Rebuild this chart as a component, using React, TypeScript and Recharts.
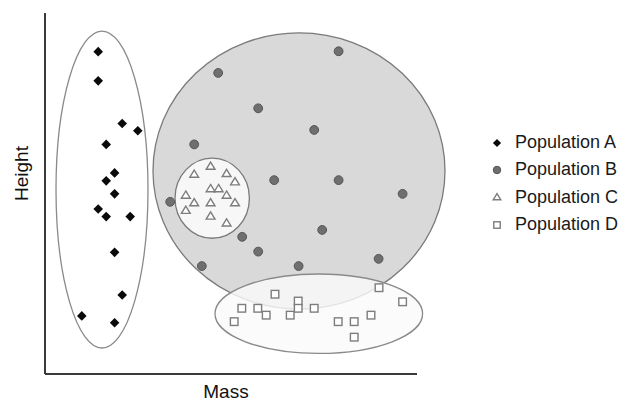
import React from 'react';
import { ScatterChart, Scatter, XAxis, YAxis, ReferenceArea, Legend } from 'recharts';

// Data values (Mass, Height), in arbitrary units
const popA = [
  { mass: 13.3, height: 89.3 }, { mass: 13.3, height: 81.2 }, { mass: 19.3, height: 69.4 },
  { mass: 23.2, height: 67.4 }, { mass: 15.3, height: 63.6 }, { mass: 17.4, height: 55.7 },
  { mass: 15.3, height: 53.5 }, { mass: 17.4, height: 49.9 }, { mass: 13.3, height: 45.7 },
  { mass: 15.3, height: 43.6 }, { mass: 21.3, height: 43.6 }, { mass: 17.4, height: 33.7 },
  { mass: 19.3, height: 21.9 }, { mass: 9.2, height: 16.1 }, { mass: 17.4, height: 14.2 },
];
const popB = [
  { mass: 73.4, height: 89.4 }, { mass: 43.3, height: 83.4 }, { mass: 53.3, height: 73.6 },
  { mass: 67.3, height: 67.6 }, { mass: 37.3, height: 63.6 }, { mass: 57.3, height: 53.7 },
  { mass: 73.4, height: 53.7 }, { mass: 89.4, height: 49.9 }, { mass: 31.3, height: 47.7 },
  { mass: 69.3, height: 39.9 }, { mass: 49.3, height: 38.0 }, { mass: 53.3, height: 33.9 },
  { mass: 83.4, height: 31.9 }, { mass: 39.2, height: 29.9 }, { mass: 63.4, height: 29.9 },
];
const popC = [
  { mass: 41.4, height: 57.6 }, { mass: 37.3, height: 55.4 }, { mass: 45.4, height: 55.6 },
  { mass: 47.5, height: 53.3 }, { mass: 41.4, height: 51.4 }, { mass: 43.4, height: 51.4 },
  { mass: 45.4, height: 49.6 }, { mass: 35.2, height: 49.6 }, { mass: 37.3, height: 47.5 },
  { mass: 41.4, height: 47.5 }, { mass: 47.5, height: 47.5 }, { mass: 35.2, height: 45.4 },
  { mass: 41.4, height: 43.8 }, { mass: 45.4, height: 41.9 },
];
const popD = [
  { mass: 57.5, height: 22.1 }, { mass: 83.5, height: 23.9 }, { mass: 63.3, height: 20.2 },
  { mass: 89.4, height: 20.0 }, { mass: 49.2, height: 18.2 }, { mass: 53.2, height: 18.2 },
  { mass: 63.3, height: 18.2 }, { mass: 67.3, height: 18.2 }, { mass: 55.3, height: 16.3 },
  { mass: 61.3, height: 16.3 }, { mass: 81.5, height: 16.3 }, { mass: 47.3, height: 14.5 },
  { mass: 73.3, height: 14.5 }, { mass: 77.3, height: 14.5 }, { mass: 77.3, height: 10.2 },
];

// Enclosing ellipses: [massMin, massMax, heightMin, heightMax]
const envelopeA = [2.75, 25.75, 7.2, 95.0];
const envelopeB = [27.0, 100.0, 18.0, 94.5];
const envelopeC = [32.5, 51.1, 37.6, 59.8];
const envelopeD = [42.5, 94.4, 5.7, 27.7];

const seriesNames = ['Population A', 'Population B', 'Population C', 'Population D'];
const markerKinds = ['diamond', 'circle', 'triangle', 'square'];

const FONT = '"Liberation Sans", Arial, Helvetica, sans-serif';

function Marker({ kind, cx, cy, s = 1 }: { kind: string; cx: number; cy: number; s?: number }) {
  if (kind === 'diamond') {
    const r = 4.8 * s;
    return <polygon points={`${cx},${cy - r} ${cx + r},${cy} ${cx},${cy + r} ${cx - r},${cy}`} fill="#0a0a0a" />;
  }
  if (kind === 'circle') {
    return <circle cx={cx} cy={cy} r={4.4 * s} fill="#6f6f6f" stroke="#555" strokeWidth={1} />;
  }
  if (kind === 'triangle') {
    const h = 7.2 * s;
    const w = 4.4 * s;
    return (
      <polygon
        points={`${cx},${cy - h * 0.55} ${cx + w},${cy + h * 0.45} ${cx - w},${cy + h * 0.45}`}
        fill="#ffffff"
        stroke="#7d7d7d"
        strokeWidth={1.4}
        strokeLinejoin="miter"
      />
    );
  }
  const a = 3.8 * s;
  return <rect x={cx - a} y={cy - a} width={a * 2} height={a * 2} fill="#ffffff" stroke="#7d7d7d" strokeWidth={1.4} />;
}

const makeShape = (kind: string) => (props: any) => <Marker kind={kind} cx={props.cx} cy={props.cy} />;

const ellipseShape = (fill: string, stroke: string, strokeWidth = 1.3) => (props: any) => {
  const { x, y, width, height } = props;
  return (
    <ellipse
      cx={x + width / 2}
      cy={y + height / 2}
      rx={Math.abs(width) / 2}
      ry={Math.abs(height) / 2}
      fill={fill}
      stroke={stroke}
      strokeWidth={strokeWidth}
    />
  );
};

function LegendContent() {
  return (
    <div style={{ fontFamily: FONT, fontSize: 18, color: '#1a1a1a' }}>
      {seriesNames.map((name, i) => (
        <div key={name} style={{ height: 27.3, display: 'flex', alignItems: 'center', whiteSpace: 'nowrap' }}>
          <svg width={18} height={14} style={{ marginRight: 9, overflow: 'visible' }}>
            <Marker kind={markerKinds[i]} cx={9} cy={7} s={0.85} />
          </svg>
          <span>{name}</span>
        </div>
      ))}
    </div>
  );
}

export default function App() {
  const sets = [popA, popB, popC, popD];
  return (
    <div style={{ position: 'absolute', left: 0, top: 0, width: 632, height: 405, background: '#fff' }}>
      <ScatterChart width={632} height={405} margin={{ top: 13, right: 215, bottom: 0, left: 0 }}>
        <XAxis
          type="number"
          dataKey="mass"
          domain={[0, 93]}
          allowDataOverflow
          tick={false}
          tickLine={false}
          height={31}
          axisLine={{ stroke: '#3a3a3a', strokeWidth: 2 }}
          label={{ value: 'Mass', position: 'insideBottom', offset: 7, dx: -5, fill: '#111', fontSize: 19, fontFamily: FONT }}
        />
        <YAxis
          type="number"
          dataKey="height"
          domain={[0, 100]}
          allowDataOverflow
          tick={false}
          tickLine={false}
          width={45}
          axisLine={{ stroke: '#3a3a3a', strokeWidth: 2 }}
          label={{ value: 'Height', angle: -90, position: 'center', dx: -1, dy: -20, fill: '#111', fontSize: 19, fontFamily: FONT }}
        />
        <ReferenceArea x1={envelopeB[0]} x2={envelopeB[1]} y1={envelopeB[2]} y2={envelopeB[3]} ifOverflow="visible" shape={ellipseShape('#d9d9d9', '#7a7a7a')} />
        <ReferenceArea x1={envelopeA[0]} x2={envelopeA[1]} y1={envelopeA[2]} y2={envelopeA[3]} ifOverflow="visible" shape={ellipseShape('#ffffff', '#8a8a8a')} />
        <ReferenceArea x1={envelopeC[0]} x2={envelopeC[1]} y1={envelopeC[2]} y2={envelopeC[3]} ifOverflow="visible" shape={ellipseShape('#f7f7f7', '#7a7a7a')} />
        <ReferenceArea x1={envelopeD[0]} x2={envelopeD[1]} y1={envelopeD[2]} y2={envelopeD[3]} ifOverflow="visible" shape={ellipseShape('rgba(250,250,250,0.82)', '#8a8a8a')} />
        {sets.map((d, i) => (
          <Scatter key={seriesNames[i]} name={seriesNames[i]} data={d} isAnimationActive={false} shape={makeShape(markerKinds[i])} />
        ))}
        <Legend
          layout="vertical"
          align="center"
          verticalAlign="middle"
          content={() => <LegendContent />}
          wrapperStyle={{ position: 'absolute', left: 488, top: 129, width: 144 }}
        />
      </ScatterChart>
    </div>
  );
}
